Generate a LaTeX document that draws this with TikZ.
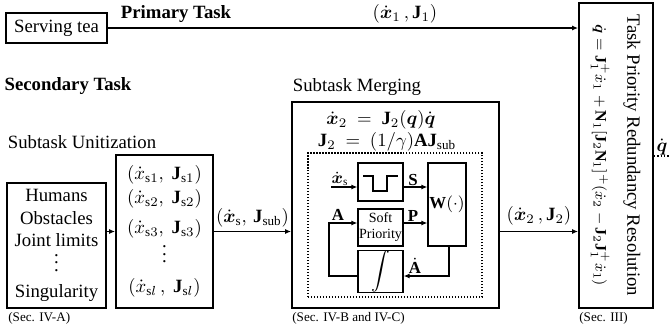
\documentclass[tikz,border=0pt]{standalone}
\usepackage{amsmath}
\usepackage{fontspec}
\setmainfont{Liberation Serif}
\usetikzlibrary{arrows.meta}
\newcommand{\pu}{0.534pt}
\newcommand{\bx}[1]{\boldsymbol{#1}}
\tikzset{
        box/.style={draw=black, line width=0.9pt, inner sep=0pt, align=center},
        blk/.style={draw=black, line width=0.6pt, inner sep=0pt, align=center},
        arr/.style={line width=0.75pt, -{Latex[length=3.2pt,width=2.6pt]}},
        ttl/.style={inner sep=0pt, font=\fontsize{10}{12}\selectfont},
        bttl/.style={inner sep=0pt, font=\fontsize{10}{12}\selectfont\bfseries},
        sec/.style={inner sep=0pt, anchor=west, font=\fontsize{7}{8}\selectfont},
        sig/.style={inner sep=0pt, font=\fontsize{9}{10}\selectfont}
          }

\begin{document}
\begin{tikzpicture}[x=\pu, y=-\pu]
        \useasboundingbox (0,0) rectangle (669,333);
        \node[box, minimum width=101*\pu, minimum height=30*\pu] (tea) at (56.5,28) {Serving tea};
        \node[box, minimum width=74*\pu, minimum height=305*\pu] (prio) at (616,155.5)
          {\rotatebox{-90}{\begin{tabular}{@{}c@{}}Task Priority Redundancy Resolution\\[5pt]
          \fontsize{8.5}{10}\selectfont$\dot{\bx{q}} = \mathbf{J}_1^{+}\dot{x}_1 + \mathbf{N}_1[\mathbf{J}_2\mathbf{N}_1]^{+}(\dot{x}_2 - \mathbf{J}_2\mathbf{J}_1^{+}\dot{x}_1)$\end{tabular}}};
        \node[bttl] (primt) at (176,14) {Primary Task};
        \node[ttl] (x1) at (405,14) {$(\dot{\bx{x}}_1\,,\mathbf{J}_1)$};
        \draw[arr] (tea.east) -- (tea.east -| prio.west);

        \node[bttl] (sect) at (68,86) {Secondary Task};
        \node[ttl] (unitt) at (82,142) {Subtask Unitization};
        \node[ttl] (merget) at (357,87) {Subtask Merging};

        \node[box, minimum width=99*\pu, minimum height=125*\pu] (obst) at (56.5,245.5)
          {Humans\\Obstacles\\Joint limits\\[-3pt]$\vdots$\\[2pt]Singularity};
        \node[box, minimum width=97*\pu, minimum height=153*\pu] (unit) at (164.5,231.5)
          {$(\dot{x}_{\mathrm{s}1},\ \mathbf{J}_{\mathrm{s}1})$\\[1pt]
           $(\dot{x}_{\mathrm{s}2},\ \mathbf{J}_{\mathrm{s}2})$\\[4pt]
           $(\dot{x}_{\mathrm{s}3},\ \mathbf{J}_{\mathrm{s}3})$\\[-3pt]
           $\vdots$\\[4pt]
           $(\dot{x}_{\mathrm{s}l}\,,\ \mathbf{J}_{\mathrm{s}l})$};
        \draw[arr] (obst.east |- unit.west) -- (unit.west);

        \node[box, minimum width=207*\pu, minimum height=206*\pu] (merge) at (395.5,205) {};
        \node[ttl] (eqa) at (381,120) {$\dot{\bx{x}}_2\ =\ \mathbf{J}_2(\bx{q})\dot{\bx{q}}$};
        \node[ttl] (eqb) at (387,142) {$\mathbf{J}_2\ =\ (1/\gamma)\mathbf{A}\mathbf{J}_{\mathrm{sub}}$};
        \node[draw, densely dotted, line width=0.6pt, minimum width=174*\pu, minimum height=144*\pu] (inner) at (395,225) {};
        \node[blk, minimum width=45*\pu, minimum height=38*\pu] (step) at (380.5,182) {};
        \draw[line width=0.6pt] ([shift={(-17.5,-6)}]step.center) -- ++(10,0) -- ++(0,15) -- ++(14,0) -- ++(0,-15) -- ++(11,0);
        \node[blk, minimum width=45*\pu, minimum height=37*\pu, font=\fontsize{7.5}{8.5}\selectfont] (soft) at (380.5,227.5) {Soft\\Priority};
        \node[blk, minimum width=45*\pu, minimum height=37*\pu] (integ) at (380.5,271.5) {$\displaystyle\int$};
        \node[blk, minimum width=38*\pu, minimum height=83*\pu, font=\fontsize{9}{10}\selectfont] (W) at (447,204.5) {$\mathbf{W}(\cdot)$};

        \coordinate (xsin) at (331,187);
        \coordinate (afb) at (329,223);
        \coordinate (adot) at (449,276);
        \draw[arr] (xsin) -- (xsin -| step.west);
        \draw[arr] (step.east |- xsin) -- (W.west |- xsin);
        \draw[arr] (soft.east |- afb) -- (W.west |- afb);
        \draw[arr] (integ.west |- adot) -| (afb) -- (soft.west |- afb);
        \draw[arr] (W.south -| adot) |- (integ.east |- adot);
        \node[sig] (lxs) at (340,179) {$\dot{\bx{x}}_{\mathrm{s}}$};
        \node[sig] (ls) at (413,180) {$\mathbf{S}$};
        \node[sig] (lp) at (413,216) {$\mathbf{P}$};
        \node[sig] (la) at (338,215) {$\mathbf{A}$};
        \node[sig] (lad) at (415,266) {$\dot{\mathbf{A}}$};

        \draw[arr] (unit.east) -- (unit.east -| merge.west)
          node[midway, above=2pt, ttl] {$(\dot{\bx{x}}_{\mathrm{s}},\,\mathbf{J}_{\mathrm{sub}})$};
        \draw[arr] (merge.east |- unit.east) -- (prio.west |- unit.east)
          node[midway, above=3pt, ttl] {$(\dot{\bx{x}}_2\,,\mathbf{J}_2)$};

        \coordinate (qend) at (669,156);
        \draw[densely dotted, line width=0.8pt] (prio.east |- qend) -- (qend);
        \node[ttl] (qd) at (662,147) {$\dot{\bx{q}}$};

        \node[sec] (seca) at (8,318) {(Sec. IV-A)};
        \node[sec] (secb) at (292,318) {(Sec. IV-B and IV-C)};
        \node[sec] (secc) at (579,318) {(Sec. III)};
      \end{tikzpicture}
\end{document}
